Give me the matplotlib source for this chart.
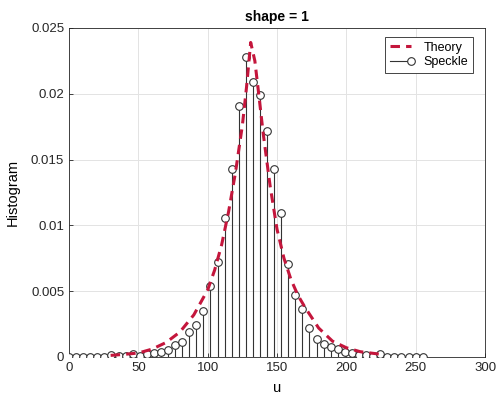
import matplotlib
matplotlib.use('Agg')
from matplotlib import pyplot as plt
from matplotlib.lines import Line2D
from matplotlib.legend_handler import HandlerBase
from matplotlib.ticker import FormatStrFormatter

# histogram of speckle (51 bins from 0 to 255)
u_bins = [i * 5.1 for i in range(51)]
speckle = [0.0, 0.0, 0.0, 0.0, 0.0, 0.0, 0.00013, 0.00005, 0.0001, 0.00026,
           0.00005, 0.00025, 0.0003, 0.00041, 0.00056, 0.00094, 0.00114, 0.0019, 0.0024, 0.0035,
           0.00538, 0.00718, 0.01058, 0.01428, 0.01908, 0.02279, 0.02093, 0.01989, 0.0172, 0.01426,
           0.01091, 0.00704, 0.0047, 0.00368, 0.0022, 0.00135, 0.00097, 0.00079, 0.00061, 0.00038,
           0.0003, 0.00015, 0.00015, 0.0001, 0.0002, 0.00003, 0.0, 0.0, 0.0, 0.0, 0.0]

# theoretical curve
u_theory = [30, 40, 50, 60, 70, 80, 90, 100, 105, 110, 115, 120, 125, 128, 131,
            134, 137, 140, 145, 150, 155, 160, 165, 170, 180, 190, 200, 210, 225]
theory = [0.00012, 0.0002, 0.0003, 0.0006, 0.0011, 0.0019, 0.0032, 0.0051, 0.0066, 0.0085,
          0.0110, 0.0140, 0.0176, 0.0205, 0.0239, 0.0225, 0.0198, 0.0170, 0.0130, 0.0097,
          0.0075, 0.0059, 0.0047, 0.0038, 0.0022, 0.0012, 0.0007, 0.0004, 0.0002]

plt.rcParams['font.family'] = ['Liberation Sans', 'DejaVu Sans']

stem_color = '#333333'
red = '#c4163c'


class StemHandler(HandlerBase):
    # matlab style stem legend: line with the marker at its right end
    def create_artists(self, legend, orig_handle, xdescent, ydescent,
                       width, height, fontsize, trans):
        y = (height - ydescent) / 2
        line = Line2D([-xdescent, width - xdescent], [y, y], color=stem_color, lw=0.8)
        mk = Line2D([width - xdescent], [y], marker='o', ms=5.5, mfc='white',
                    mec=stem_color, mew=0.8, ls='none')
        line.set_transform(trans)
        mk.set_transform(trans)
        return [line, mk]


fig = plt.figure(figsize=(4.98, 3.94), dpi=100)
ax = fig.add_axes([0.1386, 0.094, 0.974 - 0.1386, 0.929 - 0.094])

ax.vlines(u_bins, 0, speckle, color=stem_color, lw=0.8, zorder=2)
pts, = ax.plot(u_bins, speckle, 'o', ms=5.5, mfc='white', mec=stem_color, mew=0.8, zorder=3)
th, = ax.plot(u_theory, theory, color=red, lw=2.2, dashes=(3.1, 2.0), zorder=4)

ax.set_xlim(0, 300)
ax.set_ylim(0, 0.025)
ax.set_xticks(range(0, 301, 50))
ax.set_yticks([0, 0.005, 0.01, 0.015, 0.02, 0.025])
ax.yaxis.set_major_formatter(FormatStrFormatter('%g'))
ax.tick_params(direction='in', length=3, labelsize=9.5, colors='#262626', width=0.6)
ax.grid(True, color='#e3e3e3', lw=0.7)
ax.set_axisbelow(True)
for s in ax.spines.values():
    s.set_color('#262626')
    s.set_linewidth(0.6)

ax.set_title('shape = 1', fontsize=10, fontweight='bold', pad=5)
ax.set_xlabel('u', fontsize=10.5, labelpad=5.5)
ax.set_ylabel('Histogram', fontsize=10.5, labelpad=8)

leg = ax.legend([th, pts], ['Theory', 'Speckle'], loc='upper right',
                handler_map={pts: StemHandler()}, fontsize=9, fancybox=False,
                framealpha=1, edgecolor='#262626', handlelength=1.7,
                borderpad=0.4, labelspacing=0.2, handletextpad=1.0,
                borderaxespad=0, bbox_to_anchor=(0.971, 0.973))
leg.get_frame().set_linewidth(0.6)

fig.savefig('out.png', dpi=100)
